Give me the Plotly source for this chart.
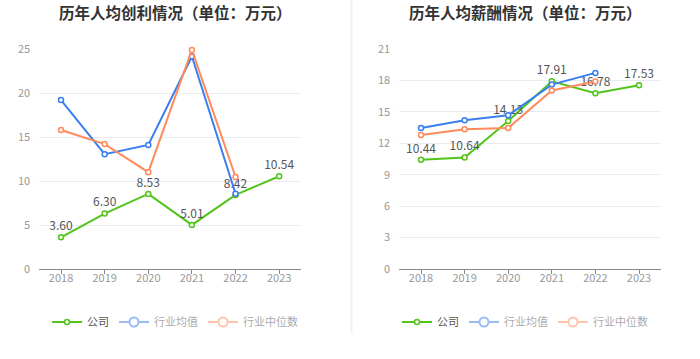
import plotly.graph_objects as go

years = ["2018", "2019", "2020", "2021", "2022", "2023"]

profit_company = [3.60, 6.30, 8.53, 5.01, 8.42, 10.54]
profit_avg = [19.2, 13.05, 14.1, 24.15, 8.55, None]
profit_median = [15.8, 14.2, 11.0, 24.9, 10.45, None]

salary_company = [10.44, 10.64, 14.13, 17.91, 16.78, 17.53]
salary_avg = [13.46, 14.19, 14.67, 17.6, 18.72, None]
salary_median = [12.8, 13.34, 13.46, 17.04, 17.9, None]

titles = ["历年人均创利情况（单位：万元）", "历年人均薪酬情况（单位：万元）"]
names = ["公司", "行业均值", "行业中位数"]
colors = ["#52c41a", "#3a7ef0", "#ff8a5c"]

FONT = "Noto Sans CJK SC"
fig = go.Figure()

panels = [
    (profit_company, profit_avg, profit_median, "x", "y", "legend"),
    (salary_company, salary_avg, salary_median, "x2", "y2", "legend2"),
]

for comp, avg, med, xa, ya, lg in panels:
    series = [comp, avg, med]
    for i, vals in enumerate(series):
        is_comp = i == 0
        fig.add_trace(go.Scatter(
            x=years, y=vals, name=names[i], xaxis=xa, yaxis=ya,
            mode="lines+markers+text" if is_comp else "lines+markers",
            text=[f"{v:.2f}" for v in vals] if is_comp else None,
            textposition="top center",
            textfont=dict(size=12, color="#555555", family=FONT),
            line=dict(color=colors[i], width=2),
            marker=dict(symbol="circle", size=5, color="white",
                        line=dict(color=colors[i], width=1.5)),
            showlegend=is_comp, legend=lg, legendgroup=lg + names[i],
            cliponaxis=False,
        ))
        if not is_comp:
            # faded legend entry
            fig.add_trace(go.Scatter(
                x=years, y=vals, name=names[i], xaxis=xa, yaxis=ya,
                mode="lines+markers", visible="legendonly",
                line=dict(color=colors[i], width=2),
                marker=dict(symbol="circle", size=9, color="white",
                            line=dict(color=colors[i], width=2)),
                showlegend=True, legend=lg, legendgroup=lg + names[i] + "L",
            ))

H = 359
ydom = [1 - 269 / H, 1 - 49 / H]
axis_x = dict(type="category", range=[-0.5, 5.5], showline=True, linecolor="#888888",
              linewidth=1, ticks="outside", ticklen=4, tickcolor="#888888",
              ticklabelstandoff=-5,
              tickfont=dict(size=11, color="#999999", family=FONT), showgrid=False,
              zeroline=False, fixedrange=True)
axis_y = dict(showline=False, gridcolor="#e8ebf3", gridwidth=1, zeroline=False,
              tickfont=dict(size=11, color="#999999", family=FONT), ticks="",
              ticklabelstandoff=8, fixedrange=True)

leg = dict(orientation="h", y=1 - 322 / H, xanchor="center", yanchor="middle",
           font=dict(size=11, color="#555555", family=FONT), itemwidth=30,
           traceorder="normal", itemclick=False, itemdoubleclick=False)

fig.update_layout(
    width=700, height=359,
    margin=dict(l=0, r=0, t=0, b=0, autoexpand=False),
    paper_bgcolor="white", plot_bgcolor="white",
    font=dict(family=FONT),
    xaxis=dict(axis_x, domain=[39.2 / 700, 301 / 700], anchor="y"),
    yaxis=dict(axis_y, domain=ydom, range=[0, 25], tickvals=[0, 5, 10, 15, 20, 25], anchor="x"),
    xaxis2=dict(axis_x, domain=[399.2 / 700, 660.8 / 700], anchor="y2"),
    yaxis2=dict(axis_y, domain=ydom, range=[0, 21], tickvals=[0, 3, 6, 9, 12, 15, 18, 21], anchor="x2"),
    legend=dict(leg, x=175 / 700),
    legend2=dict(leg, x=525 / 700),
    annotations=[
        dict(text=f"<b>{titles[0]}</b>", x=175 / 700, y=1 - 12 / H, xref="paper", yref="paper",
             showarrow=False, xanchor="center", yanchor="middle",
             font=dict(size=15.5, color="#333333", family=FONT)),
        dict(text=f"<b>{titles[1]}</b>", x=525 / 700, y=1 - 12 / H, xref="paper", yref="paper",
             showarrow=False, xanchor="center", yanchor="middle",
             font=dict(size=15.5, color="#333333", family=FONT)),
    ],
    shapes=[dict(type="line", xref="paper", yref="paper", x0=351.5 / 700, x1=351.5 / 700,
                 y0=1 - 333 / H, y1=1, line=dict(color="#f0f0f0", width=2))],
)

fig.write_html("out.html", config={"displayModeBar": False},
               post_script="document.body.style.margin='0';")
